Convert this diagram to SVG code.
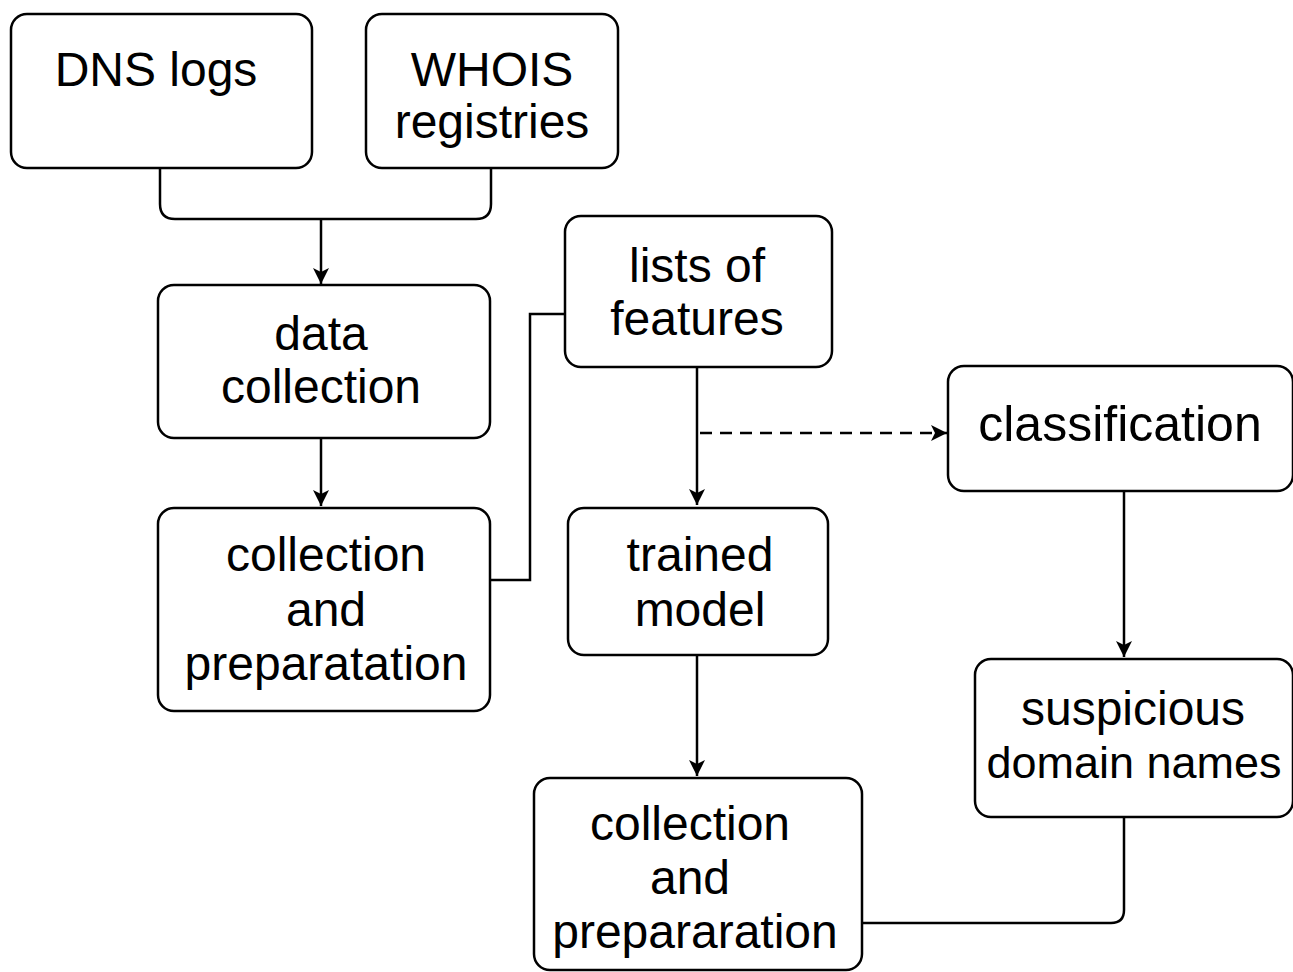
<svg xmlns="http://www.w3.org/2000/svg" width="1293" height="972" viewBox="0 0 1293 972">
<style>
.box{fill:#fff;stroke:#000;stroke-width:2.5}
.t{font-family:"Liberation Sans",Arial,sans-serif;font-size:48px;fill:#000;text-anchor:middle}
.c{fill:none;stroke:#000;stroke-width:2.5}
.d{fill:none;stroke:#000;stroke-width:2.5;stroke-dasharray:12 8}
</style>
<defs>
<marker id="ah" viewBox="0 0 16 16" refX="16" refY="8" markerWidth="16" markerHeight="16" markerUnits="userSpaceOnUse" orient="auto">
<path d="M0,0 L16,8 L0,16 L4,8 Z" fill="#000"/>
</marker>
</defs>
<rect width="1293" height="972" fill="#fff"/>
<g id="connectors">
<path class="c" d="M160,168 V204 Q160,219 175,219 H476 Q491,219 491,204 V168"/>
<path class="c" d="M321,219 V284" marker-end="url(#ah)"/>
<path class="c" d="M321,438 V506" marker-end="url(#ah)"/>
<path class="c" d="M490,580 H530 V314 H565"/>
<path class="c" d="M697,367 V505" marker-end="url(#ah)"/>
<path class="d" d="M700,433 H947" marker-end="url(#ah)"/>
<path class="c" d="M697,655 V776" marker-end="url(#ah)"/>
<path class="c" d="M1124,491 V657" marker-end="url(#ah)"/>
<path class="c" d="M1124,817 V910 Q1124,923 1111,923 H862"/>
</g>
<g id="dns"><rect class="box" x="11" y="14" width="301" height="154" rx="16"/><text class="t" x="156" y="86">DNS logs</text></g>
<g id="whois"><rect class="box" x="366" y="14" width="252" height="154" rx="16"/><text class="t" x="492" y="86">WHOIS</text><text class="t" x="492" y="138">registries</text></g>
<g id="datacollection"><rect class="box" x="158" y="285" width="332" height="153" rx="16"/><text class="t" x="321" y="350">data</text><text class="t" x="321" y="403">collection</text></g>
<g id="prep1"><rect class="box" x="158" y="508" width="332" height="203" rx="16"/><text class="t" x="326" y="571">collection</text><text class="t" x="326" y="626">and</text><text class="t" x="326" y="680">preparatation</text></g>
<g id="features"><rect class="box" x="565" y="216" width="267" height="151" rx="16"/><text class="t" x="697" y="282">lists of</text><text class="t" x="697" y="335">features</text></g>
<g id="trained"><rect class="box" x="568" y="508" width="260" height="147" rx="16"/><text class="t" x="700" y="571">trained</text><text class="t" x="700" y="626">model</text></g>
<g id="classification"><rect class="box" x="948" y="366" width="345" height="125" rx="16"/><text class="t" x="1120" y="441" style="font-size:50px">classification</text></g>
<g id="suspicious"><rect class="box" x="975" y="659" width="318" height="158" rx="16"/><text class="t" x="1133" y="725">suspicious</text><text class="t" x="1134" y="778" style="font-size:45px">domain names</text></g>
<g id="prep2"><rect class="box" x="534" y="778" width="328" height="192" rx="16"/><text class="t" x="690" y="840">collection</text><text class="t" x="690" y="894">and</text><text class="t" x="695" y="948">prepararation</text></g>
</svg>
